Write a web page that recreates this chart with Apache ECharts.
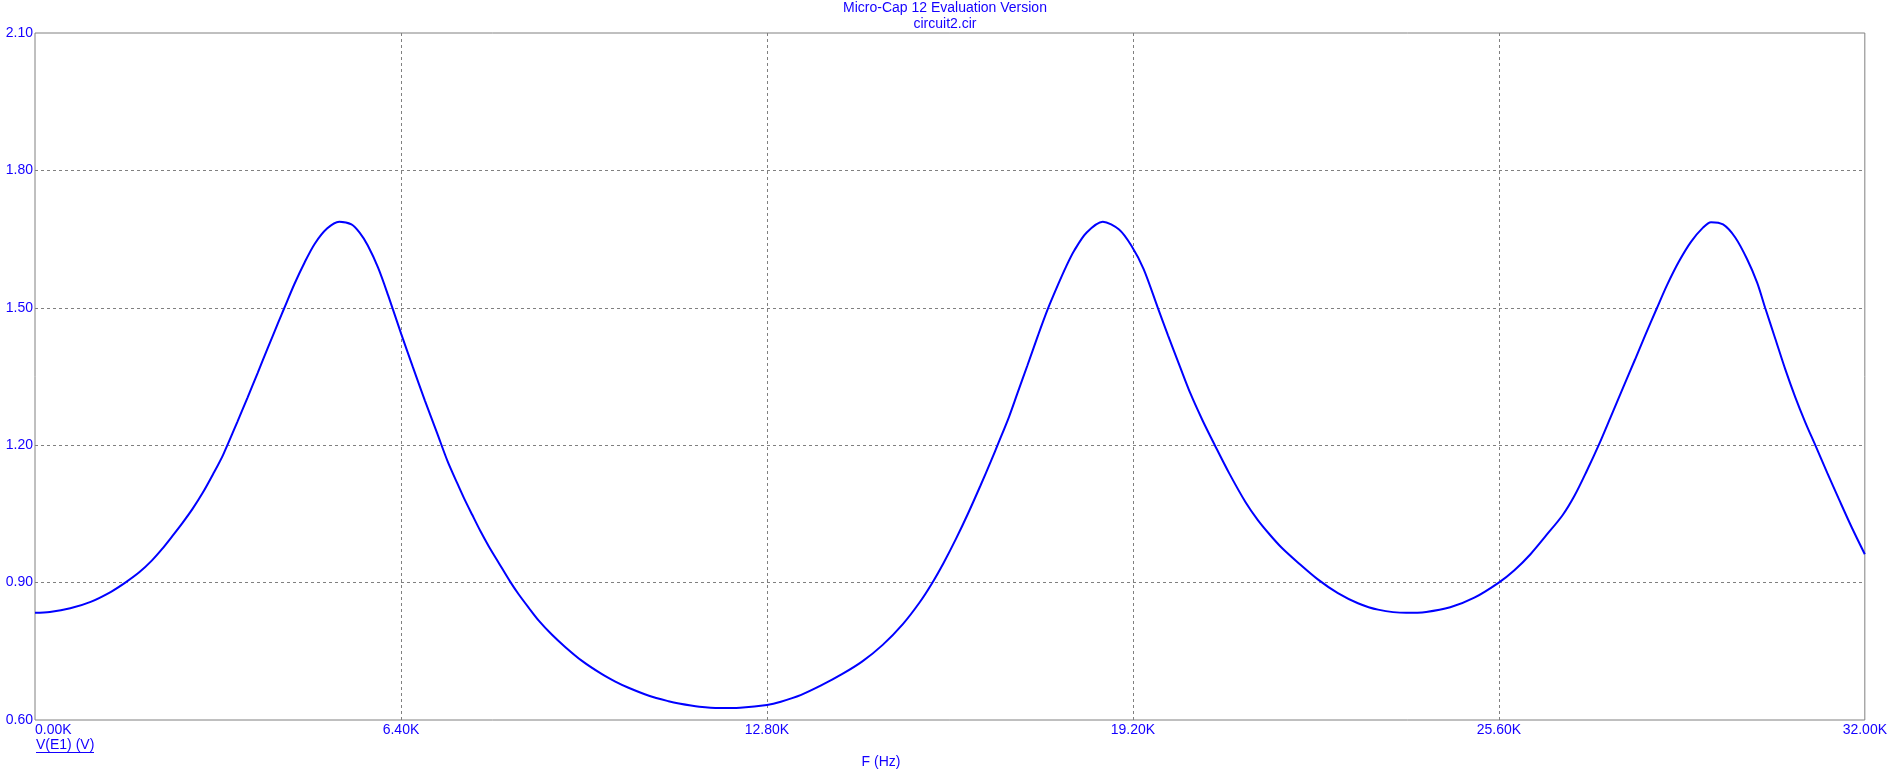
<!DOCTYPE html>
<html>
<head>
<meta charset="utf-8">
<script src="https://cdn.jsdelivr.net/npm/echarts@6/dist/echarts.min.js"></script>
<style>
html,body{margin:0;padding:0;background:#fff;}
#chart{width:1890px;height:782px;}
</style>
</head>
<body>
<div id="chart"></div>
<script>
// Frequency (Hz)
var freqs = [
  0, 260, 617, 973, 1329, 1579, 1828, 2042, 2220, 2398, 2577, 2755, 2933, 3111, 3290,
  3539, 3717, 3895, 4073, 4251, 4358, 4537, 4715, 4893, 5107, 5321,
  5534, 5677, 5820, 5998, 6176, 6404, 6604, 6817, 7031, 7209, 7384, 7500, 7646,
  7791, 7937, 8111, 8315, 8461, 8635, 8810, 9042, 9276, 9566, 9915, 10149, 10369, 10737,
  11079, 11261, 11618, 11974, 12330, 12801, 13043, 13399, 13756, 14112, 14469, 14825, 15181,
  15466, 15680, 15894, 16108, 16321, 16535, 16714, 16856, 17034, 17177, 17355, 17533, 17711,
  17889, 18032, 18175, 18388, 18674, 18958, 19172, 19386, 19636, 19814, 20028, 20206, 20419,
  20633, 20883, 21168, 21382, 21592, 21803, 22084, 22434, 22785, 23136, 23487, 23978, 24329,
  24750, 25171, 25599, 25872, 26153, 26434, 26714, 26925, 27135, 27346, 27557, 27767, 27978,
  28153, 28363, 28539, 28749, 28960, 29170, 29311, 29521, 29731, 29942, 30117, 30257, 30433,
  30608, 30783, 30959, 31134, 31345, 31555, 31766, 32000
];
// V(E1) (V)
var volts = [
  0.834, 0.836, 0.844, 0.858, 0.880, 0.900, 0.923, 0.948, 0.973, 1.001, 1.030, 1.061, 1.096, 1.136, 1.179,
  1.251, 1.304, 1.358, 1.413, 1.467, 1.499, 1.552, 1.599, 1.640, 1.673, 1.688,
  1.682, 1.664, 1.636, 1.588, 1.527, 1.443, 1.372, 1.298, 1.227, 1.167, 1.117, 1.085, 1.048,
  1.012, 0.979, 0.943, 0.901, 0.874, 0.845, 0.817, 0.786, 0.759, 0.729, 0.700, 0.684, 0.671, 0.653,
  0.641, 0.636, 0.629, 0.626, 0.627, 0.633, 0.640, 0.655, 0.676, 0.700, 0.728, 0.764, 0.810,
  0.856, 0.897, 0.944, 0.996, 1.052, 1.112, 1.164, 1.207, 1.262, 1.312, 1.374, 1.437, 1.497,
  1.550, 1.590, 1.625, 1.664, 1.688, 1.671, 1.636, 1.585, 1.500, 1.440, 1.370, 1.313, 1.254,
  1.200, 1.139, 1.076, 1.037, 1.005, 0.976, 0.944, 0.907, 0.877, 0.855, 0.841, 0.834, 0.836,
  0.846, 0.867, 0.900, 0.927, 0.962, 1.004, 1.047, 1.090, 1.143, 1.200, 1.262, 1.324, 1.386,
  1.438, 1.499, 1.549, 1.601, 1.644, 1.675, 1.687, 1.682, 1.654, 1.606, 1.555, 1.500, 1.433,
  1.366, 1.305, 1.250, 1.200, 1.139, 1.080, 1.022, 0.962
];
var titleLines = ['Micro-Cap 12 Evaluation Version', 'circuit2.cir'];
var xAxisTitle = 'F (Hz)';
var seriesName = 'V(E1) (V)';

var points = freqs.map(function (f, i) { return [f, volts[i]]; });
var blue = '#1400ff';
var font = 'Liberation Sans, Arial, sans-serif';
var gridDash = { color: '#808080', width: 1, type: [3, 3] };

var chart = echarts.init(document.getElementById('chart'), null, { renderer: 'canvas' });
chart.setOption({
  animation: false,
  backgroundColor: '#ffffff',
  grid: {
    left: 35, top: 33, right: 22, bottom: 62,
    show: true, borderColor: '#808080', borderWidth: 1, containLabel: false
  },
  xAxis: {
    type: 'value', min: 0, max: 32000, interval: 6400,
    axisLine: { show: false },
    axisTick: { show: false },
    splitLine: { show: true, showMinLine: false, showMaxLine: false, lineStyle: gridDash },
    axisLabel: {
      color: blue, fontFamily: font, fontSize: 14, margin: 3,
      alignMinLabel: 'left',
      formatter: function (v) { return (v / 1000).toFixed(2) + 'K'; }
    }
  },
  yAxis: {
    type: 'value', min: 0.6, max: 2.1, interval: 0.3,
    axisLine: { show: false },
    axisTick: { show: false },
    splitLine: { show: true, showMinLine: false, showMaxLine: false, lineStyle: gridDash },
    axisLabel: {
      color: blue, fontFamily: font, fontSize: 14, margin: 2,
      formatter: function (v) { return v.toFixed(2); }
    }
  },
  graphic: [
    { type: 'text', left: 'center', top: 1, style: { text: titleLines[0], fill: blue, font: '14px ' + font } },
    { type: 'text', left: 'center', top: 17, style: { text: titleLines[1], fill: blue, font: '14px ' + font } },
    { type: 'text', x: 881, y: 762, style: { text: xAxisTitle, fill: blue, font: '14px ' + font, align: 'center', verticalAlign: 'middle' } },
    { type: 'text', x: 36, y: 745, style: { text: seriesName, fill: blue, font: '14px ' + font, align: 'left', verticalAlign: 'middle' } },
    { type: 'line', shape: { x1: 36, y1: 752.5, x2: 94, y2: 752.5 }, style: { stroke: blue, lineWidth: 1 } }
  ],
  series: [{
    name: seriesName,
    type: 'line',
    data: points,
    showSymbol: false,
    smooth: 0.3,
    lineStyle: { color: '#0000ff', width: 2 },
    clip: true
  }]
});
</script>
</body>
</html>
